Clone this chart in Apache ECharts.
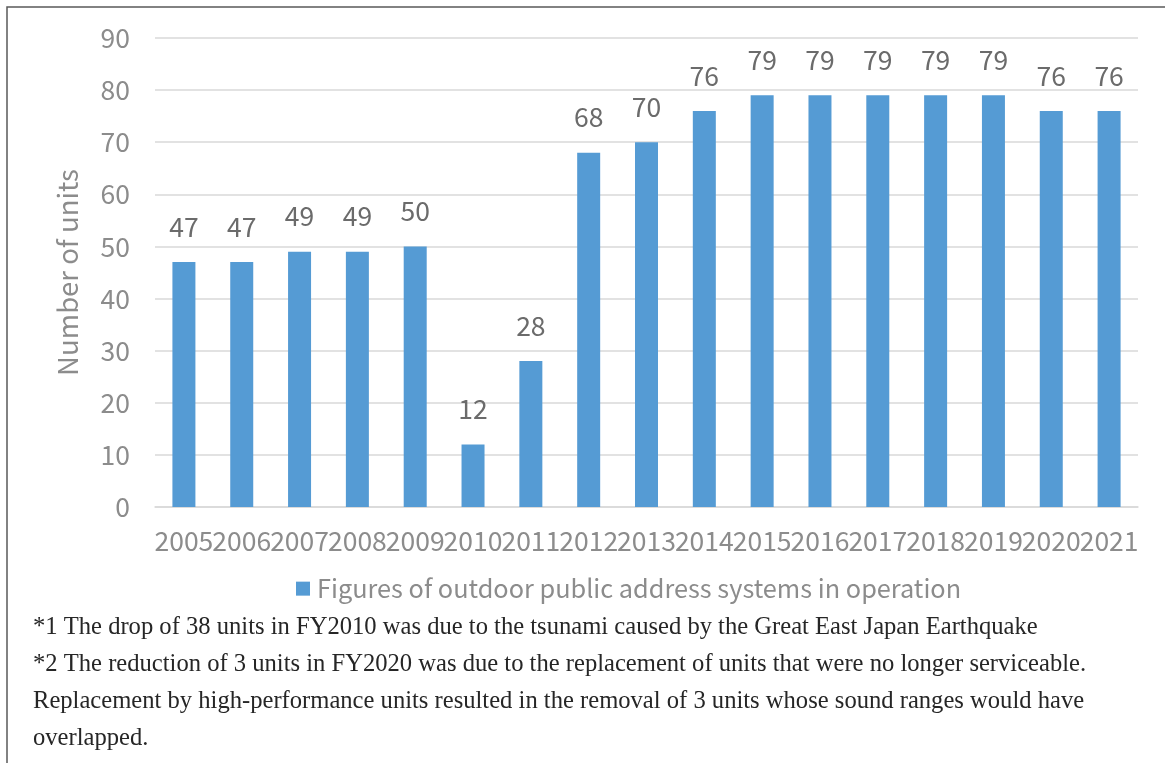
<!DOCTYPE html>
<html>
<head>
<meta charset="utf-8">
<script src="https://cdn.jsdelivr.net/npm/echarts@6/dist/echarts.min.js"></script>
<style>
html,body{margin:0;padding:0;background:#fff;}
#chart{width:1165px;height:763px;}
</style>
</head>
<body>
<div id="chart"></div>
<script>
const years = ['2005','2006','2007','2008','2009','2010','2011','2012','2013','2014','2015','2016','2017','2018','2019','2020','2021'];
const units = [47,47,49,49,50,12,28,68,70,76,79,79,79,79,79,76,76];
const seriesName = 'Figures of outdoor public address systems in operation';
const yAxisTitle = 'Number of units';
const notes = [
  '*1 The drop of 38 units in FY2010 was due to the tsunami caused by the Great East Japan Earthquake',
  '*2 The reduction of 3 units in FY2020 was due to the replacement of units that were no longer serviceable.',
  'Replacement by high-performance units resulted in the removal of 3 units whose sound ranges would have',
  'overlapped.'
];

const chart = echarts.init(document.getElementById('chart'));
const sans = '"Noto Sans CJK JP", "Noto Sans", sans-serif';
const noteY = [628, 665, 702, 739];
const graphics = [{
  type: 'rect',
  shape: {x: 7, y: 7, width: 1175, height: 780},
  style: {fill: 'none', stroke: '#595959', lineWidth: 1.5},
  silent: true
}];
notes.forEach((t, i) => {
  graphics.push({
    type: 'text',
    x: 33,
    y: noteY[i],
    style: {text: t, font: '24.6px "Liberation Serif", "DejaVu Serif", serif', fill: '#262626', verticalAlign: 'middle'}
  });
});

chart.setOption({
  backgroundColor: '#ffffff',
  animation: false,
  grid: {left: 155, right: 27, top: 38, bottom: 256, containLabel: false},
  legend: {
    data: [seriesName],
    left: 291,
    top: 571,
    itemWidth: 14,
    itemHeight: 14,
    itemGap: 6,
    icon: 'rect',
    textStyle: {fontFamily: sans, fontSize: 25.3, color: '#8c8c8c', padding: [0,0,0,2]}
  },
  xAxis: {
    type: 'category',
    data: years,
    axisLine: {lineStyle: {color: '#d9d9d9', width: 1.5}},
    axisTick: {show: false},
    axisLabel: {fontFamily: sans, fontSize: 26.5, color: '#8c8c8c', margin: 21, interval: 0}
  },
  yAxis: {
    type: 'value',
    min: 0, max: 90, interval: 10,
    name: yAxisTitle,
    nameLocation: 'middle',
    nameGap: 74,
    nameTextStyle: {fontFamily: sans, fontSize: 27.5, color: '#8c8c8c'},
    axisLine: {show: false},
    axisTick: {show: false},
    axisLabel: {fontFamily: sans, fontSize: 26.5, color: '#8c8c8c', margin: 25},
    splitLine: {lineStyle: {color: '#d9d9d9', width: 1.5}}
  },
  series: [{
    name: seriesName,
    type: 'bar',
    data: units,
    barWidth: 23,
    itemStyle: {color: '#559bd4'},
    label: {show: true, position: 'top', distance: 22, fontFamily: sans, fontSize: 26.5, color: '#6b6b6b'}
  }],
  graphic: graphics
});
</script>
</body>
</html>
